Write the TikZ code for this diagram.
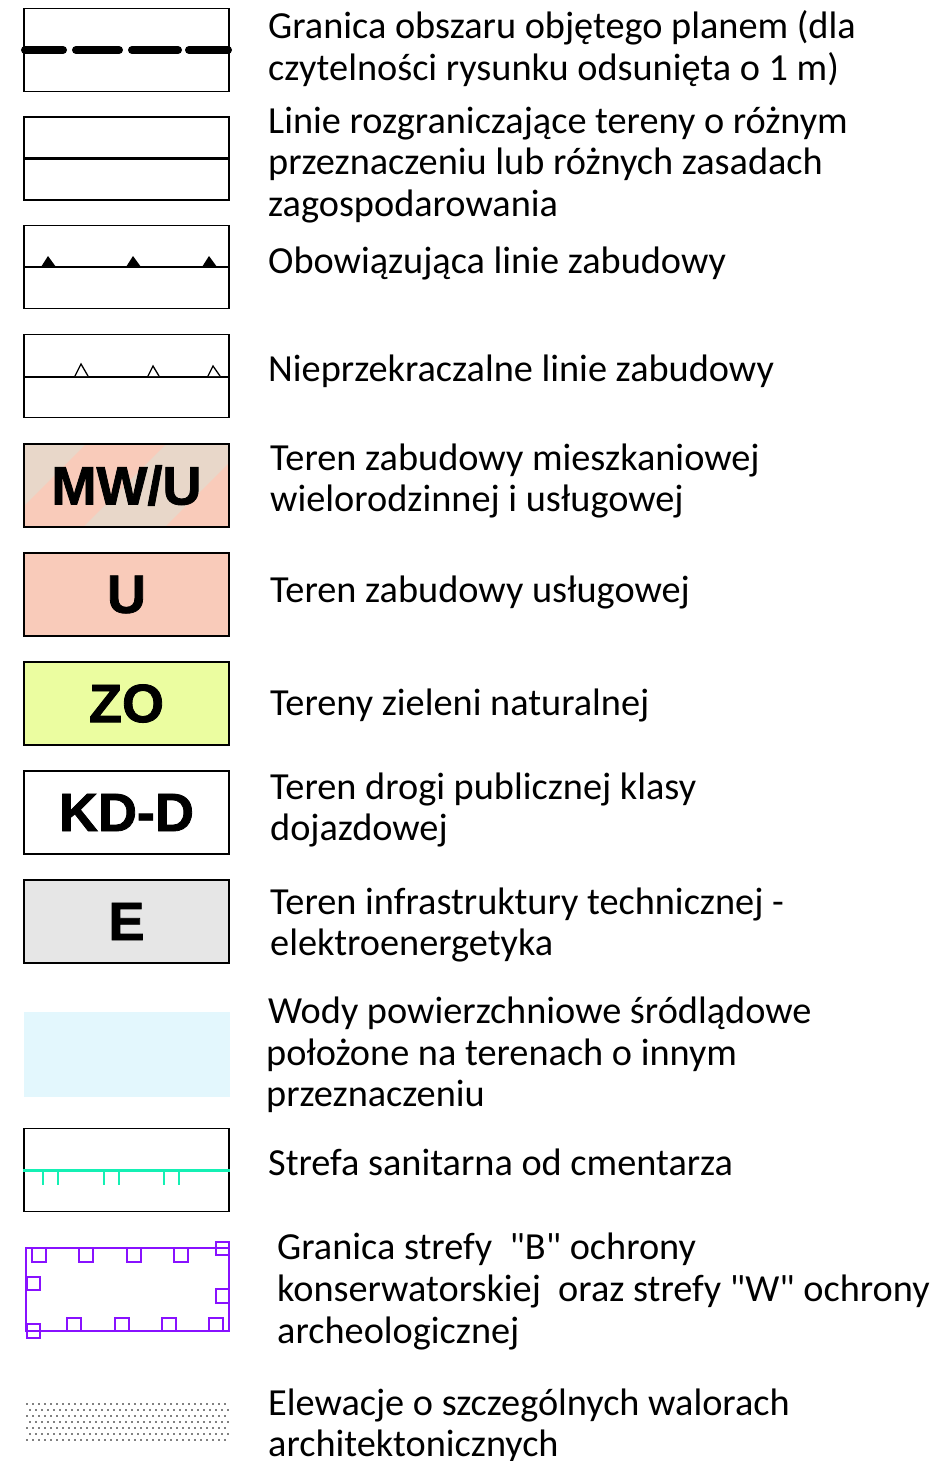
\documentclass[tikz,border=0pt]{standalone}
\usepackage{fontspec}
\setmainfont{Carlito}[Ligatures=TeXOff]
\newfontfamily\boxfont[BoldFont={Liberation Sans Bold},BoldFeatures={FakeBold=1.5}]{Liberation Sans}
\definecolor{mwbeige}{RGB}{232,215,201}
\definecolor{upink}{RGB}{249,203,186}
\definecolor{zogreen}{RGB}{235,253,160}
\definecolor{egray}{RGB}{230,230,230}
\definecolor{water}{RGB}{227,247,253}
\definecolor{mint}{RGB}{20,240,180}
\definecolor{violet}{RGB}{136,17,255}
\tikzset{
  legbox/.style={draw=black, line width=1.5pt, minimum width=205pt, minimum height=83pt, inner sep=0pt, font=\boxfont\bfseries\fontsize{54}{54}\selectfont},
  legtext/.style={anchor=base west, inner sep=0pt, font=\fontsize{38.3}{42}\selectfont},
  dashline/.style={line width=8pt, line cap=round},
  plainline/.style={line width=3pt},
}
\begin{document}
\begin{tikzpicture}[x=1pt,y=-1pt]
\useasboundingbox (0,0) rectangle (937,1461);
% 1 border of plan
\node[legbox] (b1) at (126.5,50) {};
\draw[dashline] (25,50) -- (63,50);
\draw[dashline] (76,50) -- (119,50);
\draw[dashline] (132,50) -- (178,50);
\draw[dashline] (189,50) -- (228,50);
\node[legtext] (t1a) at (268,39) {Granica obszaru objętego planem (dla};
\node[legtext] (t1b) at (268,81) {czytelności rysunku odsunięta o 1 m)};
% 2 dividing lines
\node[legbox] (b2) at (126.5,158.5) {};
\draw[plainline] (b2.west |- 0,158) -- (b2.east |- 0,158);
\node[legtext] (t2a) at (268,133) {Linie rozgraniczające tereny o różnym};
\node[legtext] (t2b) at (268,174) {przeznaczeniu lub różnych zasadach};
\node[legtext] (t2c) at (268,216) {zagospodarowania};
% 3 obligatory building line
\node[legbox] (b3) at (126.5,267) {};
\draw[line width=2.5pt] (b3.west |- 0,267) -- (b3.east |- 0,267);
\fill (41,267) -- (48,256) -- (56,267) -- cycle;
\fill (126,267) -- (133,256) -- (141,267) -- cycle;
\fill (202,267) -- (209,256) -- (217,267) -- cycle;
\node[legtext] (t3) at (268,273) {Obowiązująca linie zabudowy};
% 4 non-exceedable building line
\node[legbox] (b4) at (126.5,376) {};
\draw[line width=1.8pt] (b4.west |- 0,377) -- (b4.east |- 0,377);
\draw[line width=1.3pt, fill=white] (75,376) -- (81,364) -- (88,376);
\draw[line width=1.3pt, fill=white] (148,376) -- (153,366) -- (159,376);
\draw[line width=1.3pt, fill=white] (208,376) -- (213,366) -- (220,376);
\node[legtext] (t4) at (268,381) {Nieprzekraczalne linie zabudowy};
% 5 MW/U
\begin{scope}
\clip (24,444) rectangle (229,527);
\fill[mwbeige] (24,444) rectangle (229,527);
\fill[upink] (86,444) -- (166,444) -- (83,527) -- (3,527) -- cycle;
\fill[upink] (248,444) -- (300,444) -- (300,527) -- (165,527) -- cycle;
\end{scope}
\node[legbox] (b5) at (126.5,485.5) {MW/U};
\node[legtext] (t5a) at (270,470) {Teren zabudowy mieszkaniowej};
\node[legtext] (t5b) at (270,511) {wielorodzinnej i usługowej};
% 6 U
\node[legbox, fill=upink] (b6) at (126.5,594.5) {U};
\node[legtext] (t6) at (270,602) {Teren zabudowy usługowej};
% 7 ZO
\node[legbox, fill=zogreen] (b7) at (126.5,703.5) {ZO};
\node[legtext] (t7) at (270,715) {Tereny zieleni naturalnej};
% 8 KD-D
\node[legbox, fill=white] (b8) at (126.5,812.5) {KD-D};
\node[legtext] (t8a) at (270,799) {Teren drogi publicznej klasy};
\node[legtext] (t8b) at (270,840) {dojazdowej};
% 9 E
\node[legbox, fill=egray] (b9) at (126.5,921.5) {E};
\node[legtext] (t9a) at (270,914) {Teren infrastruktury technicznej -};
\node[legtext] (t9b) at (270,955) {elektroenergetyka};
% 10 water
\node[fill=water, minimum width=206pt, minimum height=85pt, inner sep=0pt] (b10) at (127,1054.5) {};
\node[legtext] (t10a) at (268,1023) {Wody powierzchniowe śródlądowe};
\node[legtext] (t10b) at (266,1065) {położone na terenach o innym};
\node[legtext] (t10c) at (266,1106) {przeznaczeniu};
% 11 cemetery zone
\node[legbox] (b11) at (126.5,1170) {};
\draw[mint, line width=3pt] (b11.west |- 0,1170) -- (b11.east |- 0,1170);
\foreach \x in {43,58,104,119,164,179}
  \draw[mint, line width=1.8pt] (\x,1170) -- (\x,1185);
\node[legtext] (t11) at (268,1175) {Strefa sanitarna od cmentarza};
% 12 conservation zone
\begin{scope}[violet, line width=2pt]
\draw (26,1248) rectangle (229,1331);
\foreach \x in {32,79,127,174}
  \draw (\x,1248) rectangle ++(13.5,13.5);
\draw (216,1242) rectangle ++(13,13);
\draw (27,1277) rectangle ++(13,13);
\draw (216,1289) rectangle ++(13,13.5);
\foreach \x in {67,115,162,209}
  \draw (\x,1318) rectangle ++(13.5,13);
\draw (27,1324) rectangle ++(13,13.5);
\end{scope}
\node[legtext] (t12a) at (277,1259) {Granica strefy \ "B" ochrony};
\node[legtext] (t12b) at (277,1301) {konserwatorskiej \ oraz strefy "W" ochrony};
\node[legtext] (t12c) at (277,1343) {archeologicznej};
% 13 dotted
\foreach \r in {0,...,6}{
  \pgfmathsetmacro{\yy}{1404+6*\r}
  \pgfmathsetmacro{\xo}{mod(\r,2)==0 ? 27 : 30}
  \foreach \k in {0,...,33}{
    \fill ({\xo+6*\k},\yy) circle (0.9);
  }
}
\node[legtext] (t13a) at (268,1415) {Elewacje o szczególnych walorach};
\node[legtext] (t13b) at (268,1456) {architektonicznych};
\end{tikzpicture}
\end{document}
